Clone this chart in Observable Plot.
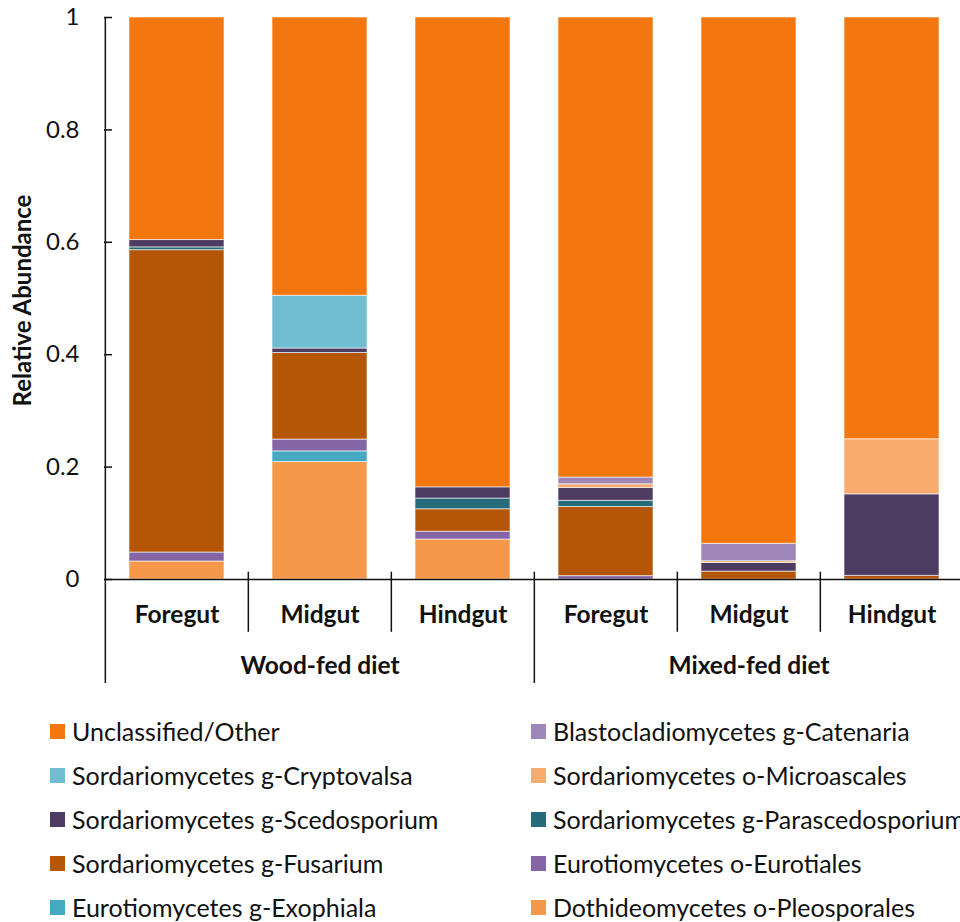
<!DOCTYPE html>
<html>
<head>
<meta charset="utf-8">
<script src="https://cdn.jsdelivr.net/npm/d3@7"></script>
<script src="https://cdn.jsdelivr.net/npm/@observablehq/plot@0.6"></script>
<style>
  body { margin: 0; background: #fff; overflow: hidden; font-family: Lato, "Noto Sans", sans-serif; }
  #legend { display: grid; grid-template-columns: 481px auto; padding: 9px 0 0 50px; }
  .item { display: flex; align-items: center; height: 44px; white-space: nowrap; font-size: 25px; color: #111; }
  .sw { width: 15px; height: 15px; margin-right: 7px; flex: none; }
</style>
</head>
<body>
<div id="chart"></div>
<div id="legend"></div>
<script>
// Gut sections sampled under each diet
const diets = ["Wood-fed diet", "Mixed-fed diet"];
const guts = ["Foregut", "Midgut", "Hindgut"];

// Fungal taxa, listed from the bottom of each stack to the top
const series = [
  "Dothideomycetes o-Pleosporales",
  "Eurotiomycetes g-Exophiala",
  "Eurotiomycetes o-Eurotiales",
  "Sordariomycetes g-Fusarium",
  "Sordariomycetes g-Parascedosporium",
  "Sordariomycetes g-Scedosporium",
  "Sordariomycetes o-Microascales",
  "Sordariomycetes g-Cryptovalsa",
  "Blastocladiomycetes g-Catenaria",
  "Unclassified/Other"
];
const colors = [
  "#F6984A", "#46A9C2", "#8466A6", "#B55506", "#266B7A",
  "#4E3B62", "#F7AC6E", "#6FBDD0", "#9E86B8", "#F3760F"
];

// Relative abundance per sample: Wood Foregut, Midgut, Hindgut, Mixed Foregut, Midgut, Hindgut
const pleosporales     = [0.032, 0.209, 0.071, 0,      0,      0];
const exophiala        = [0,     0.019, 0,     0,      0,      0];
const eurotiales       = [0.016, 0.021, 0.014, 0.006,  0,      0];
const fusarium         = [0.538, 0.154, 0.040, 0.123,  0.014,  0.0065];
const parascedosporium = [0.005, 0,     0.019, 0.011,  0,      0];
const scedosporium     = [0.013, 0.008, 0.020, 0.023,  0.0155, 0.145];
const microascales     = [0,     0,     0,     0.0065, 0.003,  0.098];
const cryptovalsa      = [0,     0.094, 0,     0,      0,      0];
const catenaria        = [0,     0,     0,     0.012,  0.031,  0];
const unclassified     = [0.396, 0.495, 0.836, 0.8185, 0.9365, 0.7505];

const yTicks = [0, 0.2, 0.4, 0.6, 0.8, 1];

const values = [pleosporales, exophiala, eurotiales, fusarium, parascedosporium,
                scedosporium, microascales, cryptovalsa, catenaria, unclassified];

// One band per diet × gut sample
const samples = diets.flatMap(diet => guts.map(gut => ({diet, gut, key: `${diet}|${gut}`})));
const keys = samples.map(s => s.key);

const rows = [];
samples.forEach((s, i) => {
  series.forEach((name, j) => rows.push({key: s.key, series: name, value: values[j][i]}));
});

const xRange = [104, 964];
const step = (xRange[1] - xRange[0]) / keys.length;
const bounds = samples.map((s, i) => ({key: s.key, i}));
const font = 24;

const chart = Plot.plot({
  width: 960,
  height: 700,
  marginTop: 17,
  marginBottom: 121,
  marginLeft: 104,
  marginRight: 0,
  style: {fontFamily: "Lato, 'Noto Sans', sans-serif", color: "#111", background: "#fff", overflow: "visible"},
  x: {domain: keys, range: xRange, paddingInner: 1 / 3, paddingOuter: 1 / 6, axis: null},
  y: {domain: [0, 1], axis: null},
  color: {domain: series, range: colors},
  marks: [
    Plot.barY(rows, {x: "key", y: "value", fill: "series", stroke: "white", strokeOpacity: 0.6, strokeWidth: 1}),
    // inward tick marks on the value axis
    Plot.axisY(yTicks, {tickSize: 8, dx: 8, tickFormat: () => "", label: null, stroke: "#111", strokeWidth: 1.5}),
    Plot.axisY(yTicks, {tickSize: 0, tickPadding: 25, fontSize: font, tickFormat: d => String(d), label: null, fill: "#111"}),
    Plot.ruleY([0], {stroke: "#111", strokeWidth: 1.5}),
    // category dividers: full height at the axis, tall between diets, short between guts
    Plot.ruleX(bounds, {
      x: "key", dx: -step / 2,
      y1: d => d.i === 0 ? 1 : 0.013,
      y2: d => d.i % guts.length === 0 ? -0.185 : -0.094,
      stroke: "#111", strokeWidth: 1.5
    }),
    Plot.text(samples, {x: "key", text: "gut", frameAnchor: "bottom", lineAnchor: "middle", dy: 36, fontSize: 24.5, fontWeight: "bold", fill: "#111"}),
    Plot.text(samples.filter(s => s.gut === guts[1]), {x: "key", text: "diet", frameAnchor: "bottom", lineAnchor: "middle", dy: 87, fontSize: 24.5, fontWeight: "bold", fill: "#111"}),
    Plot.text(["Relative Abundance"], {frameAnchor: "left", textAnchor: "middle", lineAnchor: "middle", rotate: -90, dx: -81, dy: 2, fontSize: font, fontWeight: "bold", fill: "#111"})
  ]
});
document.getElementById("chart").append(chart);

// Two-column legend, top of the stack first
const colorScale = chart.scale("color");
const legend = d3.select("#legend");
series.slice().reverse().forEach(name => {
  const item = legend.append("div").attr("class", "item");
  item.append("span").attr("class", "sw").style("background", colorScale.apply(name));
  item.append("span").text(name);
});
</script>
</body>
</html>
